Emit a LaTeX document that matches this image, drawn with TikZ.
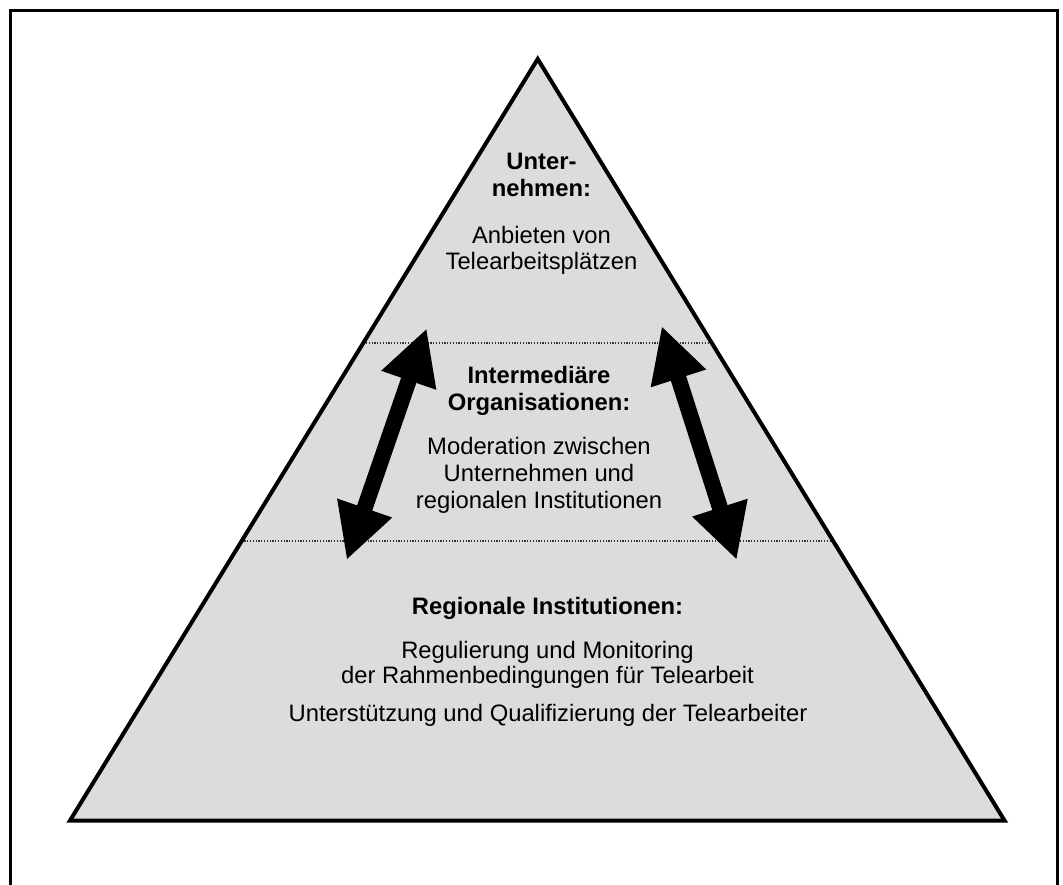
\documentclass[tikz,border=0pt]{standalone}
\usepackage{fontspec}
\setmainfont{Liberation Sans}
\usetikzlibrary{arrows.meta,calc}
\definecolor{pyrfill}{RGB}{220,220,220}
\tikzset{
  lbl/.style={anchor=base, inner sep=0pt, font=\fontsize{23.8}{26.7}\selectfont},
  head/.style={lbl, font=\fontsize{23.8}{26.7}\selectfont\bfseries},
  bigarrow/.style={line width=16pt,
    {Triangle[length=55pt,width=54pt]}-{Triangle[length=55pt,width=54pt]}},
  level/.style={line width=1.2pt, dash pattern=on 1.2pt off 1.6pt, black!80},
  frame/.style={line width=3pt},
  pyramid/.style={line width=4pt, line join=miter},
}
\begin{document}
\begin{tikzpicture}[x=1pt,y=-1pt]
\useasboundingbox (0,0) rectangle (1063,884);
\clip (0,0) rectangle (1063,884);

% outer frame (bottom edge runs off the page)
\draw[frame] (10.5,10.5) rectangle (1057,900);

% pyramid
\coordinate (apex) at (537.7,59);
\coordinate (bl) at (70,820.5);
\coordinate (br) at (1004.5,820.5);
\fill[pyrfill] (apex) -- (bl) -- (br) -- cycle;

% level separators
\coordinate (l1a) at ($(apex)!0.373!(bl)$);
\coordinate (l1b) at ($(apex)!0.373!(br)$);
\coordinate (l2a) at ($(apex)!0.633!(bl)$);
\coordinate (l2b) at ($(apex)!0.633!(br)$);
\draw[level] (l1a) -- (l1b);
\draw[level] (l2a) -- (l2b);

\draw[pyramid] (apex) -- (bl) -- (br) -- cycle;

% double arrows between the levels
\coordinate (la1) at (426.7,328.3);
\coordinate (la2) at (346.7,560);
\coordinate (ra1) at (661.7,326);
\coordinate (ra2) at (736.7,560);
\draw[bigarrow] (la2) -- (la1);
\draw[bigarrow] (ra2) -- (ra1);

% top level
\node[head] (t1) at (541.5,169.3) {Unter-};
\node[head] (t2) at (541.5,196) {nehmen:};
\node[lbl]  (t3) at (541.5,243.5) {Anbieten von};
\node[lbl]  (t4) at (541.5,269.5) {Telearbeitsplätzen};

% middle level
\node[head] (m1) at (539,383.3) {Intermediäre};
\node[head] (m2) at (539,410) {Organisationen:};
\node[lbl]  (m3) at (539,454.3) {Moderation zwischen};
\node[lbl]  (m4) at (539,481) {Unternehmen und};
\node[lbl]  (m5) at (539,508) {regionalen Institutionen};

% bottom level
\node[head] (b1) at (547.5,614) {Regionale Institutionen:};
\node[lbl]  (b2) at (547.5,658.3) {Regulierung und Monitoring};
\node[lbl]  (b3) at (547.5,683.3) {der Rahmenbedingungen für Telearbeit};
\node[lbl]  (b4) at (548,721.7) {Unterstützung und Qualifizierung der Telearbeiter};
\end{tikzpicture}
\end{document}
